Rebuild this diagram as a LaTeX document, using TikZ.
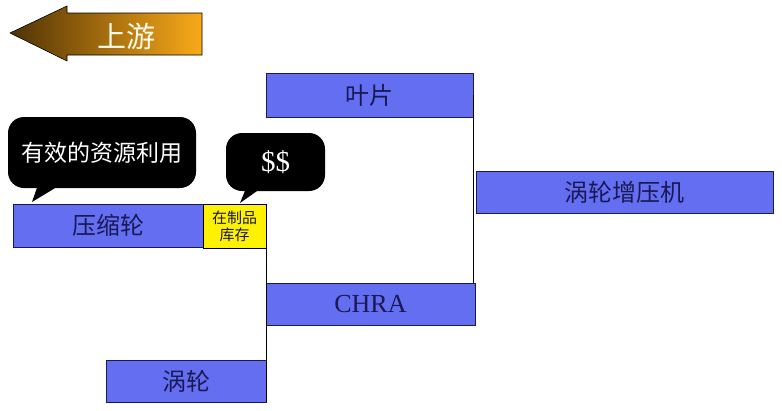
\documentclass[tikz,border=0pt]{standalone}
\usepackage{fontspec}
\setmainfont{Liberation Serif}
\newfontfamily\cjk{Noto Sans CJK SC}
\usepackage{tikz}
\usetikzlibrary{positioning,calc}
\definecolor{BoxBlue}{RGB}{100,110,240}
\definecolor{InkBlue}{RGB}{25,25,85}
\definecolor{ArrowDark}{RGB}{80,50,5}
\definecolor{ArrowGold}{RGB}{250,170,25}
\definecolor{CueWhite}{RGB}{255,250,235}

\begin{document}
\begin{tikzpicture}[x=1pt, y=-1pt,
    part/.style={draw=InkBlue, line width=0.8pt, fill=BoxBlue, text=InkBlue, inner sep=0pt, font=\cjk\fontsize{24}{26}\selectfont},
    wipbox/.style={draw=black, line width=0.8pt, fill=yellow, text=InkBlue, inner sep=0pt, align=center, font=\cjk\fontsize{15}{17}\selectfont},
    bubble/.style={fill=black, rounded corners=16pt, text=white, inner sep=0pt},
    link/.style={draw, line width=1pt}
]
    \useasboundingbox (0,0) rectangle (782,410);

    % upstream arrow
    \shadedraw[left color=ArrowDark, right color=ArrowGold, draw=black, line width=0.6pt]
        (10,33) -- (67,6) -- (67,13) -- (202,13) -- (202,55) -- (67,55) -- (67,61) -- cycle;
    \node[text=CueWhite, font=\cjk\fontsize{29}{31}\selectfont] (upstream) at (126,36) {上游};

    % parts
    \node[part, minimum width=207pt, minimum height=44pt] (yepian) at (369.5,95) {叶片};
    \node[part, minimum width=297pt, minimum height=42pt] (zengyaji) at (624.5,192) {涡轮增压机};
    \node[part, minimum width=190pt, minimum height=43pt] (yasuo) at (108,225.5) {压缩轮};
    \node[wipbox, minimum width=63pt, minimum height=44pt] (wip) at (234.5,226) {在制品\\库存};
    \node[part, minimum width=209pt, minimum height=42pt, font=\fontsize{26}{28}\selectfont] (chra) at (370.5,304) {CHRA};
    \node[part, minimum width=160pt, minimum height=42pt] (wolun) at (186,381) {涡轮};

    \draw[link] (yepian.east) -- (yepian.east |- chra.north);
    \draw[link] (wip.south east) -- (wip.south east |- wolun.south);

    % callouts
    \node[bubble, minimum width=188pt, minimum height=71pt, font=\cjk\fontsize{23}{25}\selectfont] (effbubble) at (102,152.5) {有效的资源利用};
    \coordinate (tipA) at (32,202);
    \fill ($(effbubble.south west)+(29,0)$) -- (tipA) -- ($(effbubble.south west)+(47,0)$) -- cycle;

    \node[bubble, minimum width=99pt, minimum height=58pt, font=\fontsize{29}{31}\selectfont] (cashbubble) at (275.5,162) {\$\$};
    \coordinate (tipB) at (240,203);
    \fill ($(cashbubble.south west)+(19,0)$) -- (tipB) -- ($(cashbubble.south west)+(31,0)$) -- cycle;
\end{tikzpicture}
\end{document}
